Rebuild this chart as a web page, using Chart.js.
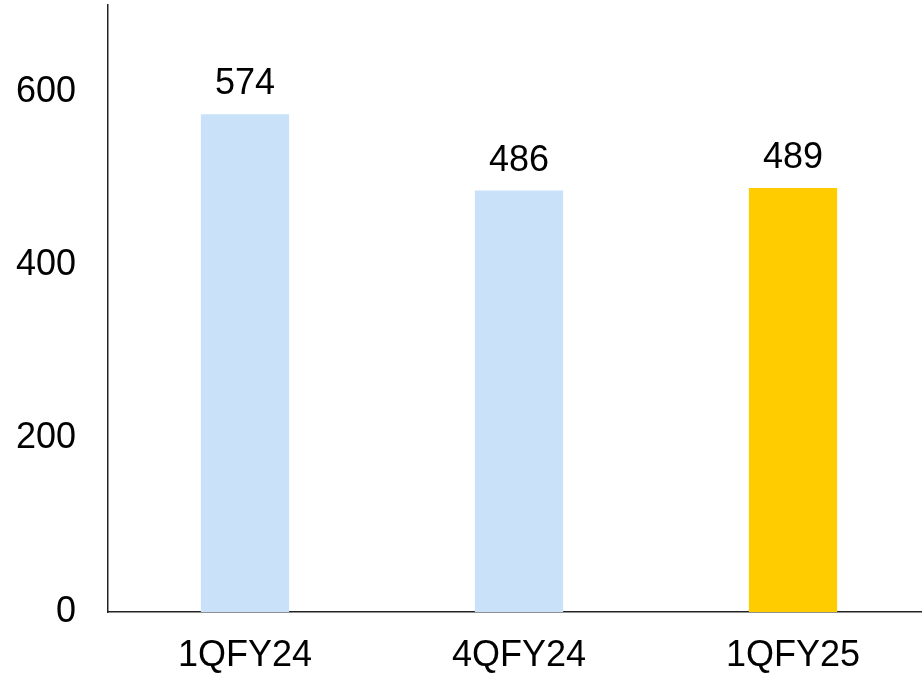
<!DOCTYPE html>
<html>
<head>
<meta charset="utf-8">
<script src="https://cdn.jsdelivr.net/npm/chart.js@4"></script>
<style>
  html, body { margin: 0; padding: 0; background: #fff; overflow: hidden; }
  canvas { display: block; }
</style>
</head>
<body>
<canvas id="chart" width="930" height="673"></canvas>
<script>
const categories = ['1QFY24', '4QFY24', '1QFY25'];
const values     = [574, 486, 489];
const barColors  = ['#C9E2FA', '#C9E2FA', '#FFCC00'];
const yTicks     = [0, 200, 400, 600];

// ── value labels above bars ───────────────────────────────────────────────
const valueLabels = {
    id: 'valueLabels',
    afterDatasetsDraw(chart) {
        const ctx = chart.ctx;
        const meta = chart.getDatasetMeta(0);
        ctx.save();
        ctx.font = "36px 'Liberation Sans', Arial, sans-serif";
        ctx.fillStyle = '#000';
        ctx.textAlign = 'center';
        ctx.textBaseline = 'alphabetic';
        meta.data.forEach((bar, i) => {
            ctx.fillText(String(values[i]), bar.x, bar.y - 20);
        });
        ctx.restore();
    },
};

Chart.defaults.font.family = "'Liberation Sans', Arial, sans-serif";
Chart.defaults.font.size   = 36;
Chart.defaults.color       = '#000';

new Chart(document.getElementById('chart').getContext('2d'), {
    type: 'bar',
    data: {
        labels: categories,
        datasets: [{
            data: values,
            backgroundColor: barColors,
            borderWidth: 0,
            categoryPercentage: 1,
            barPercentage: 0.322,
        }],
    },
    options: {
        responsive: false,
        animation: false,
        layout: { padding: { left: 0, top: 5, right: 0, bottom: 0 } },
        plugins: {
            legend: { display: false },
            tooltip: { enabled: false },
        },
        scales: {
            x: {
                grid: { display: false, drawTicks: false },
                border: { display: true, color: '#222', width: 1.5 },
                ticks: { padding: 22, color: '#000' },
                afterFit: (axis) => { axis.height = 61; },
            },
            y: {
                min: 0,
                max: 700,
                grid: { display: false, drawTicks: false },
                border: { display: true, color: '#222', width: 1.5 },
                ticks: { padding: 32, color: '#000' },
                afterBuildTicks: (axis) => { axis.ticks = yTicks.map(v => ({ value: v })); },
                afterFit: (axis) => {
                    axis.width = 108;
                    axis.paddingTop = 0;
                    axis.paddingBottom = 0;
                },
            },
        },
    },
    plugins: [valueLabels],
});
</script>
</body>
</html>
